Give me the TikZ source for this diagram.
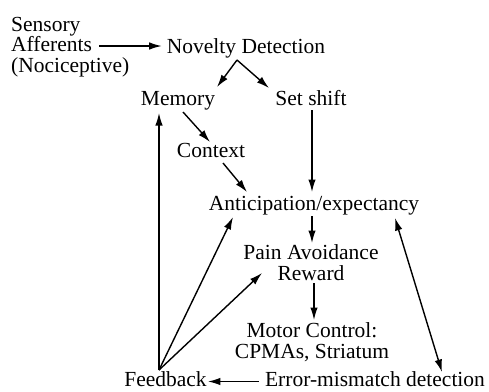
\documentclass[tikz,border=0pt]{standalone}
\usepackage{fontspec}
\setmainfont{Liberation Serif}
\usetikzlibrary{calc,arrows.meta}
\begin{document}
\begin{tikzpicture}[x=1pt,y=-1pt,
  lbl/.style={inner sep=0pt,font=\fontsize{21.5}{20.5}\selectfont},
  arr/.style={-{Latex[length=12.5pt,width=7.5pt]},line width=1.4pt},
  darr/.style={{Latex[length=12.5pt,width=7.5pt]}-{Latex[length=12.5pt,width=7.5pt]},line width=1.4pt}]
\useasboundingbox[fill=white] (0,0) rectangle (489,391);
\node[lbl,align=left,anchor=base west] (sens) at (11,72) {Sensory\\Afferents\\(Nociceptive)};
\node[lbl,anchor=base] (nov) at (246,53) {Novelty Detection};
\node[lbl,anchor=base] (mem) at (178,105) {Memory};
\node[lbl,anchor=base] (set) at (311,105) {Set shift};
\node[lbl,anchor=base] (ctx) at (211,157) {Context};
\node[lbl,anchor=base] (ant) at (314,210) {Anticipation/expectancy};
\node[lbl,align=center,anchor=base] (pain) at (311,280) {Pain Avoidance\\Reward};
\node[lbl,align=center,anchor=base] (mot) at (312,358) {Motor Control:\\CPMAs, Striatum};
\node[lbl,anchor=base] (fb) at (165.5,386.5) {Feedback};
\node[lbl,anchor=base] (err) at (375,386.5) {Error-mismatch detection};
% connectors
\draw[arr] ($(sens.base west)+(88,-26)$) -- ($(nov.base west)+(-5,-7)$);
\draw[arr] ($(nov.base)+(-9,7)$) -- ($(mem.base)+(39,-18)$);
\draw[arr] ($(nov.base)+(-9,7)$) -- ($(set.base)+(-42,-17)$);
\draw[arr] ($(mem.base)+(5,7)$) -- ($(ctx.base)+(-1,-15)$);
\draw[arr] ($(ctx.base)+(12,6)$) -- ($(ant.base)+(-67,-18)$);
\draw[arr] ($(set.base)+(1,5)$) -- ($(ant.base)+(-2,-18)$);
\draw[arr] ($(ant.base)+(-2,6)$) -- ($(pain.base)+(1,-37)$);
\draw[arr] ($(pain.base)+(3,3)$) -- ($(mot.base)+(2,-38)$);
\draw[arr] ($(fb.base)+(-6.5,-16.5)$) -- ($(mem.base)+(-19,8)$);
\draw[arr] ($(fb.base)+(-6.5,-16.5)$) -- ($(ant.base)+(-81,7)$);
\draw[arr] ($(fb.base)+(-6.5,-16.5)$) -- ($(pain.base)+(-49,-7)$);
\draw[arr] ($(err.base west)+(-6,-5)$) -- ($(fb.base east)+(1,-5)$);
\draw[darr] ($(ant.base)+(81,8)$) -- ($(err.base)+(67,-14.5)$);
\end{tikzpicture}
\end{document}
